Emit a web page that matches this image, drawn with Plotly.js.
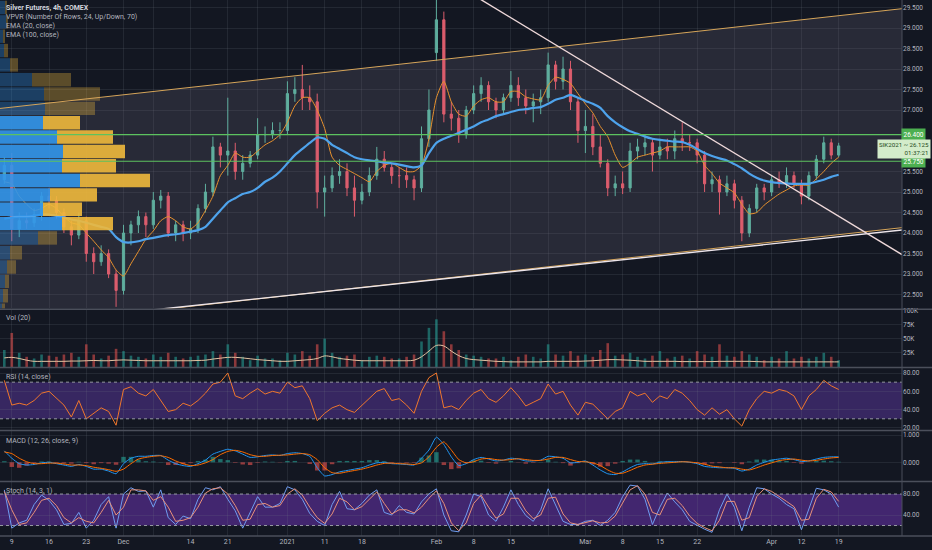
<!DOCTYPE html>
<html><head><meta charset="utf-8">
<script src="https://cdn.plot.ly/plotly-3.0.1.min.js"></script>
<style>html,body{margin:0;padding:0;background:#131722;}#chart{width:932px;height:550px;}</style>
</head><body><div id="chart"></div>
<script>
// ---------------- DATA ----------------
const dates = [
'2020-11-06','2020-11-09','2020-11-10','2020-11-11','2020-11-12','2020-11-13',
'2020-11-16','2020-11-17','2020-11-18','2020-11-19','2020-11-20',
'2020-11-23','2020-11-24','2020-11-25','2020-11-27',
'2020-11-30','2020-12-01','2020-12-02','2020-12-03','2020-12-04',
'2020-12-07','2020-12-08','2020-12-09','2020-12-10','2020-12-11',
'2020-12-14','2020-12-15','2020-12-16','2020-12-17','2020-12-18',
'2020-12-21','2020-12-22','2020-12-23','2020-12-24',
'2020-12-28','2020-12-29','2020-12-30','2020-12-31',
'2021-01-04','2021-01-05','2021-01-06','2021-01-07','2021-01-08',
'2021-01-11','2021-01-12','2021-01-13','2021-01-14','2021-01-15',
'2021-01-18','2021-01-19','2021-01-20','2021-01-21','2021-01-22',
'2021-01-25','2021-01-26','2021-01-27','2021-01-28','2021-01-29',
'2021-02-01','2021-02-02','2021-02-03','2021-02-04','2021-02-05',
'2021-02-08','2021-02-09','2021-02-10','2021-02-11','2021-02-12',
'2021-02-15','2021-02-16','2021-02-17','2021-02-18','2021-02-19',
'2021-02-22','2021-02-23','2021-02-24','2021-02-25','2021-02-26',
'2021-03-01','2021-03-02','2021-03-03','2021-03-04','2021-03-05',
'2021-03-08','2021-03-09','2021-03-10','2021-03-11','2021-03-12',
'2021-03-15','2021-03-16','2021-03-17','2021-03-18','2021-03-19',
'2021-03-22','2021-03-23','2021-03-24','2021-03-25','2021-03-26',
'2021-03-29','2021-03-30','2021-03-31','2021-04-01',
'2021-04-05','2021-04-06','2021-04-07','2021-04-08','2021-04-09',
'2021-04-12','2021-04-13','2021-04-14','2021-04-15','2021-04-16',
'2021-04-19'];

const open = [
25.3,25.65,24.1,24.3,24.25,24.45, 24.9,24.8,24.5,24.15,23.95, 24.3,23.5,23.3,23.5,
23.0,22.6,24.0,24.2,24.4, 24.2,24.8,24.9,24.0,24.2, 24.0,24.1,24.6,25.0,26.1,
25.9,26.0,25.5,25.7, 25.9,26.4,26.4,26.5, 26.5,27.4,27.5,27.3,27.2,
25.0,25.1,25.4,25.5,25.1, 24.8,25.0,25.4,25.8,25.6, 25.4,25.4,25.3,25.1,26.3,
28.4,29.2,26.9,26.8,26.4, 27.0,27.4,27.6,27.2,27.0, 27.3,27.6,27.3,27.1,27.2,
27.3,28.1,27.7,28.0,27.2, 26.5,26.6,26.1,25.7,25.1, 25.2,25.1,26.0,26.1,26.2,
25.9,26.1,26.0,26.3,26.2, 26.2,25.9,25.2,25.3,25.0, 25.2,24.8,24.0,24.6,
25.1,25.0,25.3,25.2,25.4, 25.2,24.9,25.4,25.8,26.2, 25.9];
const high = [
25.85,25.95,24.5,24.5,24.6,25.0, 25.1,24.9,24.6,24.3,24.5, 24.4,23.65,23.7,23.6,
23.1,24.2,24.3,24.55,24.5, 25.0,25.05,25.0,24.3,24.3, 24.3,24.7,25.2,26.35,26.2,
27.3,26.2,25.9,26.0, 26.8,26.6,26.7,26.7, 27.7,27.8,28.1,27.6,27.4,
25.4,25.6,25.8,25.7,25.4, 25.2,25.6,26.1,26.0,25.7, 25.6,25.6,25.4,26.6,27.5,
30.3,29.4,27.2,27.0,27.1, 27.6,27.8,27.7,27.3,27.4, 27.95,27.8,27.5,27.4,27.5,
28.4,28.2,28.3,28.2,27.3, 27.0,26.9,26.4,25.8,25.4, 25.5,26.2,26.3,26.4,26.3,
26.3,26.3,26.5,26.7,26.4, 26.3,26.0,25.5,25.4,25.4, 25.3,24.9,24.7,25.2,
25.2,25.4,25.5,25.6,25.5, 25.3,25.5,25.9,26.35,26.3, 26.2];
const low = [
25.2,23.8,23.9,24.1,24.15,24.3, 24.6,24.35,24.0,23.7,23.85, 23.3,23.0,23.2,22.9,
22.2,22.5,23.7,24.0,23.9, 24.1,24.6,23.9,23.8,23.8, 23.85,24.0,24.5,24.9,25.6,
25.4,25.3,25.3,25.6, 25.8,26.2,26.3,26.3, 26.4,27.2,27.0,27.0,24.6,
24.4,25.0,25.2,24.9,24.4, 24.7,24.9,25.3,25.5,25.2, 25.1,25.1,24.8,25.0,26.1,
28.2,26.7,26.5,26.2,26.3, 26.9,27.2,27.0,26.8,26.9, 27.2,27.1,26.9,26.7,26.9,
27.2,27.5,27.5,27.0,26.2, 25.95,25.9,25.6,24.9,24.9, 24.95,25.0,25.8,25.9,25.5,
25.8,25.8,25.8,26.0,26.0, 25.7,25.0,25.0,24.45,24.9, 24.6,23.8,23.9,24.5,
24.8,24.9,25.1,25.1,25.1, 24.7,24.8,25.3,25.7,25.8, 25.85];
const close = [
25.65,24.1,24.3,24.25,24.45,24.9, 24.8,24.5,24.15,23.95,24.3, 23.5,23.3,23.5,23.0,
22.6,24.0,24.2,24.4,24.2, 24.8,24.9,24.0,24.2,24.0, 24.1,24.6,25.0,26.1,25.9,
26.0,25.5,25.7,25.9, 26.4,26.4,26.5,26.5, 27.4,27.5,27.3,27.2,25.0,
25.1,25.4,25.5,25.1,24.8, 25.0,25.4,25.8,25.6,25.4, 25.4,25.3,25.1,26.3,27.0,
29.2,26.9,26.8,26.4,27.0, 27.4,27.6,27.2,27.0,27.3, 27.6,27.3,27.1,27.2,27.3,
28.1,27.7,28.0,27.2,26.5, 26.6,26.1,25.7,25.1,25.2, 25.1,26.0,26.1,26.2,25.9,
26.1,26.0,26.3,26.2,26.2, 25.9,25.2,25.3,25.0,25.2, 24.8,24.0,24.6,25.1,
25.0,25.3,25.2,25.4,25.2, 24.9,25.4,25.8,26.2,25.9, 26.125];

const ema20 = [
25.25,25.2,24.9,24.7,24.55,24.6, 24.7,24.6,24.4,24.25,24.2, 24.0,23.8,23.59,23.4,
23.1,22.95,23.25,23.55,23.85, 24.05,24.3,24.4,24.3,24.15, 24.1,24.25,24.55,24.9,25.4,
25.65,25.95,25.85,25.85, 26.0,26.15,26.25,26.4, 26.7,27.1,27.3,27.3,27.0,
26.55,25.85,25.65,25.55,25.45, 25.35,25.25,25.5,25.65,25.7, 25.6,25.5,25.5,25.65,26.3,
27.3,27.7,27.2,26.9,26.85, 27.1,27.25,27.3,27.2,27.2, 27.45,27.45,27.32,27.27,27.25,
27.6,27.8,27.75,27.65,27.4, 27.15,26.93,26.6,26.35,25.9, 25.6,25.7,25.85,25.9,25.95,
26.0,26.1,26.1,26.1,26.1, 26.0,25.65,25.45,25.22,25.1, 24.98,24.7,24.47,24.5,
24.68,24.82,24.95,25.05,25.15, 25.17,25.17,25.32,25.5,25.7, 25.85];
const ema100 = [
24.35,24.38,24.4,24.4,24.42,24.45, 24.45,24.42,24.38,24.33,24.3, 24.25,24.2,24.15,24.1,
23.9,23.78,23.77,23.8,23.85, 23.88,23.92,23.95,23.97,24.0, 24.03,24.07,24.15,24.35,24.55,
24.75,24.85,24.95,25.0, 25.1,25.25,25.35,25.5, 25.7,25.9,26.05,26.2,26.33,
26.3,26.15,26.05,25.95,25.85, 25.8,25.77,25.75,25.72,25.7, 25.67,25.63,25.6,25.65,25.95,
26.2,26.3,26.37,26.44,26.52, 26.6,26.7,26.77,26.85,26.9, 26.95,27.0,27.02,27.05,27.07,
27.15,27.25,27.3,27.37,27.3, 27.22,27.15,27.05,26.85,26.7, 26.58,26.48,26.42,26.35,26.3,
26.27,26.25,26.23,26.22,26.15, 26.05,25.95,25.88,25.82,25.77, 25.68,25.58,25.45,25.35,
25.28,25.24,25.22,25.21,25.2, 25.2,25.2,25.25,25.3,25.37, 25.42];

// volume (thousands of contracts, peak 4h bar per day) and its 20-MA
const volume = [
30,60,25,18,15,22, 20,18,22,25,18, 40,22,15,20, 32,28,20,18,15, 22,18,25,18,15,
18,20,22,28,22, 40,25,18,12, 20,15,15,12, 25,22,28,20,40, 50,25,18,20,22,
12,18,20,18,15, 15,18,22,45,69, 84,63,40,30,22, 20,18,15,15,18, 12,18,22,18,15,
40,22,20,28,20, 22,18,30,42,20, 22,25,18,15,20, 28,15,18,20,15, 28,22,18,40,20,
18,28,22,18, 12,18,15,28,15, 18,15,18,25,18, 12];
const volMA = [
16,17,15,12,10,10, 10,10,10,10.5,10.5, 11,11.5,11,11, 12,12.5,12,11.5,11, 11,11,11,11,11,
11,11.5,12,14,15.5, 17,17,16,14.5, 13,12,11,10, 10,11,12,13,15, 19.5,18,15,13.5,12,
11,11,11,11,11, 11,11,12,18,28, 38,37,28,20,15, 13,12,11,10,9.5, 9,9,9,9,9,
10,10,10,10,10, 10.5,11,12,13,13, 12.5,12,11,10,10, 10,10,10,9.5,9.5, 9.5,9.5,9.5,10,10,
10,10,10,9.5, 9,9,9,9,9, 9,9,9,9,9, 9];

const rsi = [
72,45,47,45,50,58, 60,52,45,32,50, 30,36,42,38, 23,62,65,58,55, 62,50,38,40,47,
44,50,58,68,70, 80,55,52,58, 63,57,60,58, 70,64,66,52,28, 36,42,45,40,37,
45,52,60,63,50, 52,45,36,60,75, 80,42,44,40,50, 58,62,52,48,55, 64,55,44,48,52,
68,57,60,45,34, 48,46,38,30,38, 42,60,55,58,48, 55,52,62,58,50, 40,34,42,35,40,
30,22,40,52, 60,58,62,60,55, 40,55,62,72,66, 62];

const macd = [
0.42,0.15,-0.05,-0.1,-0.08,-0.02, 0.0,-0.05,-0.1,-0.15,-0.08, -0.15,-0.25,-0.25,-0.32,
-0.42,-0.05,0.15,0.22,0.22, 0.25,0.25,0.08,-0.05,-0.12, -0.15,-0.05,0.08,0.3,0.4,
0.48,0.42,0.3,0.18, 0.2,0.25,0.27,0.25, 0.32,0.35,0.32,0.22,-0.2, -0.5,-0.45,-0.35,-0.3,-0.25,
-0.2,-0.1,-0.02,0.0,-0.05, -0.06,-0.08,-0.1,0.15,0.45, 0.92,0.65,0.2,-0.12,-0.05,
0.1,0.18,0.12,0.05,0.08, 0.15,0.12,0.05,0.05,0.08, 0.22,0.2,0.15,-0.02,0.0,
0.05,-0.1,-0.28,-0.42,-0.45, -0.35,-0.2,-0.08,-0.05,-0.06, 0.0,0.02,0.02,0.03,0.0,
-0.05,-0.15,-0.18,-0.2,-0.2, -0.22,-0.32,-0.25,-0.1, 0.0,0.08,0.12,0.15,0.1,
0.03,0.05,0.12,0.18,0.2, 0.2];
const macdSignal = [
0.38,0.32,0.15,0.02,-0.05,-0.05, -0.03,-0.03,-0.06,-0.1,-0.1, -0.12,-0.18,-0.22,-0.27,
-0.33,-0.25,-0.05,0.12,0.18, 0.22,0.24,0.18,0.05,-0.05, -0.12,-0.1,-0.02,0.1,0.28,
0.4,0.44,0.38,0.28, 0.22,0.22,0.25,0.26, 0.27,0.3,0.32,0.28,0.1, -0.2,-0.38,-0.4,-0.35,-0.3,
-0.25,-0.18,-0.1,-0.04,-0.03, -0.05,-0.06,-0.08,-0.02,0.2, 0.55,0.75,0.45,0.1,-0.02,
0.02,0.12,0.14,0.1,0.08, 0.1,0.13,0.1,0.07,0.07, 0.12,0.18,0.18,0.1,0.03,
0.02,-0.02,-0.12,-0.28,-0.4, -0.4,-0.3,-0.18,-0.1,-0.07, -0.04,-0.02,0.0,0.02,0.01,
-0.02,-0.07,-0.14,-0.17,-0.2, -0.2,-0.25,-0.28,-0.2, -0.1,-0.02,0.06,0.1,0.12,
0.08,0.05,0.07,0.12,0.16, 0.18];
const macdHist = [
0.04,-0.17,-0.2,-0.12,-0.03,0.03, 0.03,-0.02,-0.04,-0.05,0.02, -0.03,-0.07,-0.03,-0.05,
-0.09,0.2,0.2,0.1,0.04, 0.03,0.01,-0.1,-0.1,-0.07, -0.03,0.05,0.1,0.2,0.12,
0.08,-0.02,-0.08,-0.1, -0.02,0.03,0.02,-0.01, 0.05,0.05,0.0,-0.06,-0.3, -0.3,-0.07,0.05,0.05,0.05,
0.05,0.08,0.08,0.04,-0.02, -0.01,-0.02,-0.02,0.17,0.25, 0.37,-0.1,-0.25,-0.22,-0.03,
0.08,0.06,-0.02,-0.05,0.0, 0.05,-0.01,-0.05,-0.02,0.01, 0.1,0.02,-0.03,-0.12,-0.03,
0.03,-0.08,-0.16,-0.14,-0.05, 0.05,0.1,0.1,0.05,0.01, 0.04,0.04,0.02,0.01,-0.01,
-0.03,-0.08,-0.04,-0.03,0.0, -0.02,-0.07,0.03,0.1, 0.1,0.1,0.06,0.05,-0.02,
-0.05,0.0,0.05,0.06,0.04, 0.02];

const stochK = [
88,15,25,30,60,78, 68,50,22,24,45, 15,30,60,75, 15,80,92,85,86, 55,88,35,22,38,
33,70,92,88,94, 70,48,15,45, 75,55,55,62, 94,88,70,43,28, 20,60,85,52,50,
62,78,88,45,40, 58,45,42,65,80, 90,40,10,8,40, 80,75,40,28,55, 88,60,39,28,50,
90,60,28,22,22, 28,30,20,30,45, 75,97,95,70,22, 55,82,65,50,28, 20,13,7,50,80,
55,10,55,92, 90,80,72,60,52, 12,50,91,88,80, 55];
const stochD = [
85,50,22,25,45,68, 72,58,35,25,35, 28,25,45,68, 40,55,88,88,86, 68,75,55,28,30,
35,55,82,90,92, 80,58,30,32, 60,62,55,58, 80,90,78,55,35, 24,42,72,65,50,
56,70,84,62,42, 50,50,44,55,72, 86,62,25,10,25, 62,78,55,34,42, 72,72,48,33,40,
72,74,42,25,22, 25,29,25,26,38, 62,88,96,80,45, 40,70,72,58,38, 24,16,10,30,66,
66,30,35,75, 90,85,76,66,56, 30,32,72,89,84, 66];

// Volume profile (VPVR, 24 rows, up / down volume per row, bottom row first)
const vpPrices = [22.12,22.47,22.82,23.17,23.52,23.88,24.23,24.58,24.93,25.28,25.64,25.99,
                  26.34,26.69,27.04,27.39,27.74,28.10,28.45,28.80,29.15,29.50,29.85,30.21];
const vpUp   = [2,3,5,7,10,38,62,43,50,80,62,63,57,43,45,44,32,10,4,3,6,5,3,4];
const vpDown = [3,5,4,9,12,19,51,39,47,70,54,62,56,37,50,56,39,8,4,2,2,2,2,2];
const vpValueArea = [6, 13];   // first / last row inside the 70% value area

// Drawings (date, price anchors)
const hLevels = [26.40, 25.75];
const channelUpper = [['2020-11-09',27.07],['2021-04-19',29.30]];
const channelLower = [['2020-11-09',21.73],['2021-04-19',23.96]];
const supportLine  = [['2020-11-30',22.03],['2021-04-19',23.91]];
const downTrend    = [['2021-02-01',30.35],['2021-04-19',24.41]];
const lastPrice = 26.125;

// Axis ticks (price labels hidden behind the level boxes are left out)
const priceTicks = [22.5,23,23.5,24,24.5,25,25.5,27,27.5,28,28.5,29,29.5];
const tickDates = ['2020-11-09','2020-11-16','2020-11-23','2020-12-01','2020-12-07','2020-12-14','2020-12-21',
 '2020-12-28','2021-01-04','2021-01-11','2021-01-18','2021-01-25','2021-02-01','2021-02-08','2021-02-15',
 '2021-02-22','2021-03-01','2021-03-08','2021-03-15','2021-03-22','2021-03-29','2021-04-06','2021-04-12','2021-04-19'];
const tickLabels = ['9','16','23','Dec','','14','21','','2021','11','18','','Feb','8','15','','Mar','8','15','22','','Apr','12','19'];

// ---------------- CHART ----------------
const FONT = 'Roboto, "DejaVu Sans", sans-serif';
const gridColor = 'rgba(120,123,134,0.17)';
const axFont = {family: FONT, size: 6.5, color: '#b2b5be'};
const XR = [-0.58, 120.5];
const PH = 536, PW = 902;
const upC = '#5fae9e', dnC = '#dc5d6d';

function yax(domain, range, extra) {
  return Object.assign({domain, range, side: 'right', anchor: 'x', showgrid: true, gridcolor: gridColor,
    zeroline: false, showline: false, ticks: '', tickfont: axFont, fixedrange: true}, extra || {});
}

const idx = d => dates.indexOf(d);
function extLine(a, b, xa, xb) {
  const i1 = idx(a[0]), i2 = idx(b[0]);
  const s = (b[1] - a[1]) / (i2 - i1);
  return {x0: xa, y0: a[1] + s * (xa - i1), x1: xb, y1: a[1] + s * (xb - i1)};
}

const inVA = i => i >= vpValueArea[0] && i <= vpValueArea[1];

const traces = [
  {type: 'candlestick', x: dates, open, high, low, close, xaxis: 'x', yaxis: 'y',
   increasing: {line: {color: upC, width: 1}, fillcolor: upC},
   decreasing: {line: {color: dnC, width: 1}, fillcolor: dnC},
   whiskerwidth: 0, hoverinfo: 'skip'},
  {type: 'scatter', mode: 'lines', x: dates, y: ema20, xaxis: 'x', yaxis: 'y',
   line: {color: '#e8922e', width: 1, shape: 'spline', smoothing: 0.6}, hoverinfo: 'skip'},
  {type: 'scatter', mode: 'lines', x: dates, y: ema100, xaxis: 'x', yaxis: 'y',
   line: {color: '#4ea3ec', width: 2.2, shape: 'spline', smoothing: 0.6}, hoverinfo: 'skip'},
  // VPVR
  {type: 'bar', orientation: 'h', y: vpPrices, x: vpUp, xaxis: 'x2', yaxis: 'y', width: 0.3517 * 0.93,
   marker: {color: vpUp.map((v, i) => inVA(i) ? 'rgba(50,150,235,0.9)' : 'rgba(50,150,235,0.32)'), line: {width: 0}},
   hoverinfo: 'skip'},
  {type: 'bar', orientation: 'h', y: vpPrices, x: vpDown, base: vpUp, xaxis: 'x2', yaxis: 'y', width: 0.3517 * 0.93,
   marker: {color: vpDown.map((v, i) => inVA(i) ? 'rgba(240,185,60,0.9)' : 'rgba(240,185,60,0.33)'), line: {width: 0}},
   hoverinfo: 'skip'},
  // Volume
  {type: 'bar', x: dates, y: volume, xaxis: 'x', yaxis: 'y2', width: 0.35,
   marker: {color: close.map((c, i) => c >= open[i] ? 'rgba(38,166,154,0.55)' : 'rgba(239,83,80,0.55)'), line: {width: 0}},
   hoverinfo: 'skip'},
  {type: 'scatter', mode: 'lines', x: dates, y: volMA, xaxis: 'x', yaxis: 'y2',
   line: {color: '#e2c3a2', width: 1, shape: 'spline'}, hoverinfo: 'skip'},
  // RSI
  {type: 'scatter', mode: 'lines', x: dates, y: rsi, xaxis: 'x', yaxis: 'y3',
   line: {color: '#f0772c', width: 1}, hoverinfo: 'skip'},
  // MACD
  {type: 'bar', x: dates, y: macdHist, xaxis: 'x', yaxis: 'y4', width: 0.6,
   marker: {color: macdHist.map(v => v >= 0 ? 'rgba(38,166,154,0.6)' : 'rgba(239,83,80,0.6)'), line: {width: 0}},
   hoverinfo: 'skip'},
  {type: 'scatter', mode: 'lines', x: dates, y: macd, xaxis: 'x', yaxis: 'y4',
   line: {color: '#2196f3', width: 1, shape: 'spline', smoothing: 0.5}, hoverinfo: 'skip'},
  {type: 'scatter', mode: 'lines', x: dates, y: macdSignal, xaxis: 'x', yaxis: 'y4',
   line: {color: '#ff6d00', width: 1, shape: 'spline', smoothing: 0.5}, hoverinfo: 'skip'},
  // Stoch
  {type: 'scatter', mode: 'lines', x: dates, y: stochK, xaxis: 'x', yaxis: 'y5',
   line: {color: '#6f9cf0', width: 1}, hoverinfo: 'skip'},
  {type: 'scatter', mode: 'lines', x: dates, y: stochD, xaxis: 'x', yaxis: 'y5',
   line: {color: '#e8907a', width: 1}, hoverinfo: 'skip'}
];

// shapes
const shapes = [];
const up = extLine(channelUpper[0], channelUpper[1], XR[0], XR[1]);
const lo = extLine(channelLower[0], channelLower[1], XR[0], XR[1]);
shapes.push({type: 'path', xref: 'x', yref: 'y', layer: 'below',
  path: `M ${up.x0},${up.y0} L ${up.x1},${up.y1} L ${lo.x1},${lo.y1} L ${lo.x0},${lo.y0} Z`,
  fillcolor: 'rgba(170,160,185,0.14)', line: {width: 0}});
shapes.push(Object.assign({type: 'line', xref: 'x', yref: 'y', line: {color: '#d6a55a', width: 1}}, up));
shapes.push(Object.assign({type: 'line', xref: 'x', yref: 'y', line: {color: '#d6a55a', width: 1}}, lo));
shapes.push(Object.assign({type: 'line', xref: 'x', yref: 'y', line: {color: '#ece4ea', width: 1.4}},
  extLine(supportLine[0], supportLine[1], idx(supportLine[0][0]), XR[1])));
shapes.push(Object.assign({type: 'line', xref: 'x', yref: 'y', line: {color: '#efd9da', width: 1.4}},
  extLine(downTrend[0], downTrend[1], idx(downTrend[0][0]), XR[1])));
hLevels.forEach(h => shapes.push({type: 'line', xref: 'paper', yref: 'y', x0: 0, x1: 1, y0: h, y1: h,
  line: {color: '#5cc25f', width: 1.2}}));
// RSI band & levels
shapes.push({type: 'rect', xref: 'paper', yref: 'y3', x0: 0, x1: 1, y0: 30, y1: 70, layer: 'below',
  fillcolor: 'rgba(120,70,210,0.36)', line: {width: 0}});
[70, 30].forEach(v => shapes.push({type: 'line', xref: 'paper', yref: 'y3', x0: 0, x1: 1, y0: v, y1: v,
  line: {color: '#9598a1', width: 1, dash: 'dot'}}));
// Stoch band & levels
shapes.push({type: 'rect', xref: 'paper', yref: 'y5', x0: 0, x1: 1, y0: 20, y1: 80, layer: 'below',
  fillcolor: 'rgba(130,60,220,0.42)', line: {width: 0}});
[80, 20].forEach(v => shapes.push({type: 'line', xref: 'paper', yref: 'y5', x0: 0, x1: 1, y0: v, y1: v,
  line: {color: '#9598a1', width: 1, dash: 'dot'}}));
// pane separators and axis border
[309.3, 367.5, 430.5, 481.5, 536].forEach(py => shapes.push({type: 'line', xref: 'paper', yref: 'paper',
  x0: 0, x1: 932 / PW, y0: 1 - py / PH, y1: 1 - py / PH, line: {color: '#4b4f5b', width: 1.5}}));
shapes.push({type: 'line', xref: 'paper', yref: 'paper', x0: 1, x1: 1, y0: 0, y1: 1, line: {color: '#4b4f5b', width: 1}});

// annotations
const P = py => 1 - py / PH;
const ann = [];
function label(px, py, text, size, color) {
  ann.push({xref: 'paper', yref: 'paper', x: px / PW, y: P(py), text, showarrow: false, xanchor: 'left', yanchor: 'middle',
    font: {family: FONT, size: size, color: color}});
}
label(4, 7.5, '<b>Silver Futures, 4h, COMEX</b>', 7, '#d1d4dc');
label(4, 16.8, 'VPVR (Number Of Rows, 24, Up/Down, 70)', 7, '#b2b5be');
label(4, 25.8, 'EMA (20, close)', 7, '#b2b5be');
label(4, 34.8, 'EMA (100, close)', 7, '#b2b5be');
label(4, 318, 'Vol (20)', 7, '#b2b5be');
label(4, 376.5, 'RSI (14, close)', 7, '#b2b5be');
label(4, 440.5, 'MACD (12, 26, close, 9)', 7, '#b2b5be');
label(4, 491, 'Stoch (14, 3, 1)', 7, '#b2b5be');
hLevels.forEach(h => ann.push({xref: 'paper', yref: 'y', x: 926 / PW, y: h, text: h.toFixed(3), showarrow: false,
  xanchor: 'right', yanchor: 'middle', bgcolor: '#4caf50', borderpad: 1.5,
  font: {family: FONT, size: 6.5, color: '#ffffff'}}));
ann.push({xref: 'paper', yref: 'y', x: 931 / PW, y: lastPrice - 0.07, showarrow: false, xanchor: 'right', yanchor: 'middle',
  text: 'SIK2021 ~ ' + lastPrice.toFixed(3) + '<br>01:37:21', align: 'right', bgcolor: '#d3ecca', borderpad: 1,
  font: {family: FONT, size: 6.2, color: '#1f4a22'}});

const layout = {
  width: 932, height: 550, margin: {l: 0, r: 30, t: 0, b: 14},
  paper_bgcolor: '#131722', plot_bgcolor: 'rgba(0,0,0,0)',
  showlegend: false, hovermode: false, barmode: 'overlay', boxgap: 0.58,
  xaxis: {type: 'category', range: XR, anchor: 'y5', tickvals: tickDates, ticktext: tickLabels,
    tickfont: {family: FONT, size: 7, color: '#b2b5be'}, tickangle: 0, showgrid: true, gridcolor: gridColor,
    ticks: '', showline: false, zeroline: false, rangeslider: {visible: false}, fixedrange: true},
  xaxis2: {overlaying: 'x', anchor: 'y', range: [0, PW], visible: false, fixedrange: true},
  yaxis: yax([0.4245, 1], [22.16, 29.683], {tickvals: priceTicks, tickformat: '.3f'}),
  yaxis2: yax([0.3153, 0.4217], [0, 100.5], {tickvals: [25, 50, 75, 100], ticktext: ['25K', '50K', '75K', '100K']}),
  yaxis3: yax([0.1978, 0.3134], [17.8, 85.45], {tickvals: [20, 40, 60, 80], tickformat: '.2f'}),
  yaxis4: yax([0.1026, 0.1959], [-0.685, 1.147], {tickvals: [0, 1], tickformat: '.3f'}),
  yaxis5: yax([0, 0.1007], [0, 102.9], {tickvals: [40, 80], tickformat: '.2f'}),
  shapes, annotations: ann
};

Plotly.newPlot('chart', traces, layout, {staticPlot: true, displayModeBar: false});
</script>
</body></html>
